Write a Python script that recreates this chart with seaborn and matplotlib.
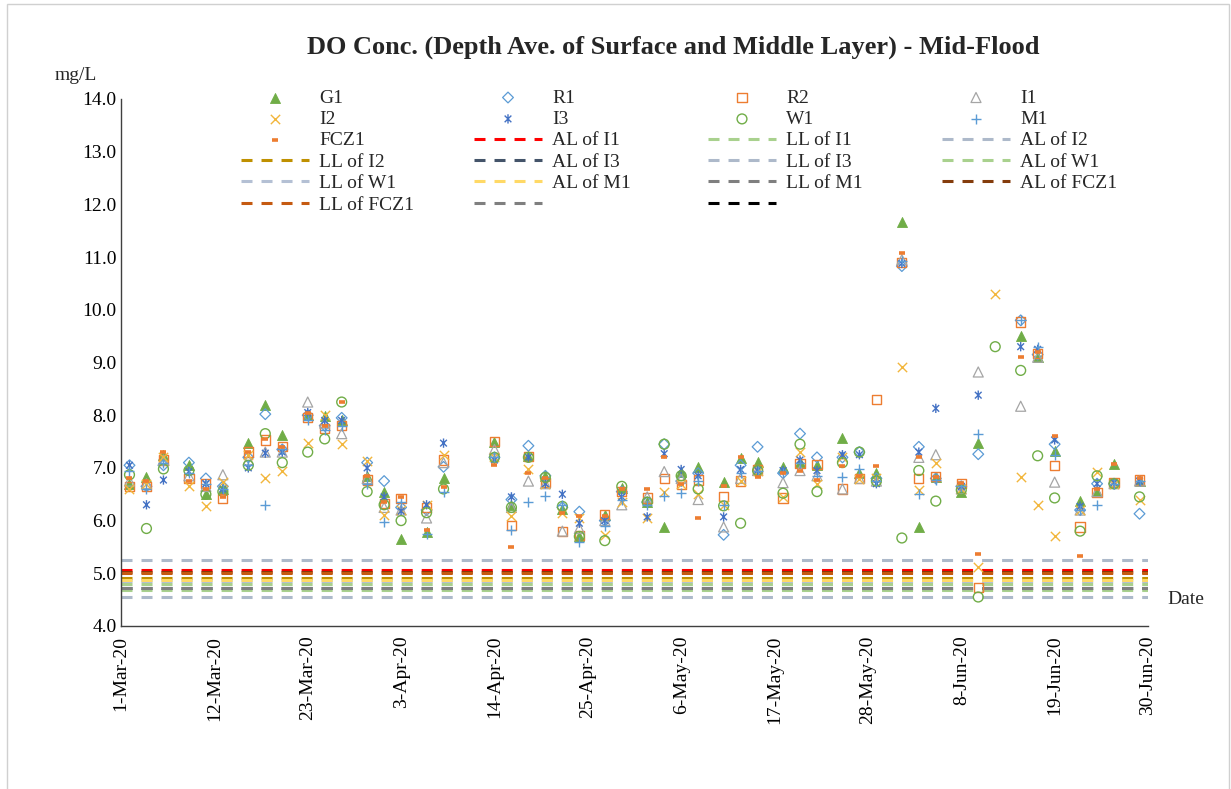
import numpy as np
import pandas as pd
import matplotlib
matplotlib.use("Agg")
import matplotlib.pyplot as plt
import matplotlib.dates as mdates
from matplotlib.lines import Line2D
from matplotlib.path import Path
from matplotlib.patches import Rectangle
from matplotlib.ticker import FixedLocator, FormatStrFormatter
import seaborn as sns

# ---------------------------------------------------------------- data
dates = pd.to_datetime([
    "2020-03-02", "2020-03-04", "2020-03-06", "2020-03-09", "2020-03-11", "2020-03-13",
    "2020-03-16", "2020-03-18", "2020-03-20", "2020-03-23", "2020-03-25", "2020-03-27",
    "2020-03-30", "2020-04-01", "2020-04-03", "2020-04-06", "2020-04-08", "2020-04-14",
    "2020-04-16", "2020-04-18", "2020-04-20", "2020-04-22", "2020-04-24", "2020-04-27",
    "2020-04-29", "2020-05-02", "2020-05-04", "2020-05-06", "2020-05-08", "2020-05-11",
    "2020-05-13", "2020-05-15", "2020-05-18", "2020-05-20", "2020-05-22", "2020-05-25",
    "2020-05-27", "2020-05-29", "2020-06-01", "2020-06-03", "2020-06-05", "2020-06-08",
    "2020-06-10", "2020-06-12", "2020-06-15", "2020-06-17", "2020-06-19", "2020-06-22",
    "2020-06-24", "2020-06-26", "2020-06-29",
])
nan = np.nan

G1 = [6.70, 6.83, 7.25, 7.05, 6.50, 6.60, 7.47, 8.20, 7.62, 8.00, 7.98, 7.90, 6.85,
      6.55, 5.65, 5.78, 6.80, 7.50, 6.30, 7.22, 6.85, 6.22, 5.70, 6.10, 6.62, 6.35,
      5.88, 6.92, 7.02, 6.73, 7.18, 7.12, 7.02, 7.12, 7.05, 7.57, 6.90, 6.90, 11.66,
      5.87, 6.83, 6.55, 7.47, nan, 9.50, 9.10, 7.32, 6.38, 6.55, 7.07, 6.75]
R1 = [7.05, 6.65, 7.05, 7.10, 6.80, 6.65, 7.20, 8.02, 7.35, 8.00, 7.80, 7.95, 7.10,
      6.75, 6.25, 6.20, 7.02, 7.20, 6.40, 7.42, 6.85, 6.25, 6.17, 6.00, 6.55, 6.35,
      7.45, 6.75, 6.90, 5.73, 7.05, 7.40, 6.90, 7.65, 7.20, 7.20, 7.30, 6.80, 10.83,
      7.40, 6.80, 6.65, 7.26, nan, 9.80, 9.15, 7.45, 6.20, 6.70, 6.70, 6.13]
R2 = [6.65, 6.65, 7.15, 6.80, 6.70, 6.42, 7.30, 7.53, 7.40, 7.95, 7.75, 7.80, 6.77,
      6.33, 6.42, 6.25, 7.15, 7.50, 5.90, 7.22, 6.72, 5.80, 5.72, 6.12, 6.55, 6.43,
      6.80, 6.68, 6.77, 6.45, 6.75, 6.97, 6.43, 7.08, 7.07, 6.60, 6.80, 8.30, 10.90,
      6.80, 6.83, 6.70, 4.73, nan, 9.77, 9.17, 7.04, 5.88, 6.53, 6.72, 6.77]
I1 = [6.75, 6.70, 7.15, 6.85, 6.65, 6.87, 7.15, 7.30, 7.30, 8.25, 7.85, 7.65, 6.80,
      6.25, 6.20, 6.05, 7.10, 7.35, 6.25, 6.75, 6.70, 5.80, 5.85, 6.00, 6.30, 6.45,
      6.93, 6.80, 6.40, 5.88, 6.80, 6.95, 6.72, 6.95, 6.85, 6.60, 6.80, 6.75, 10.95,
      7.20, 7.25, 6.60, 8.82, nan, 8.17, 9.10, 6.73, 6.20, 6.55, 6.70, 6.75]
I2 = [6.60, 6.70, 7.20, 6.65, 6.27, 6.73, 7.25, 6.80, 6.95, 7.47, 8.00, 7.45, 7.13,
      6.10, 6.20, 6.30, 7.25, 7.20, 6.08, 6.97, 6.70, 6.15, 6.05, 5.72, 6.35, 6.05,
      6.55, 6.70, 6.50, 6.30, 6.75, 6.95, 6.45, 7.30, 6.70, 7.20, 6.78, 6.80, 8.92,
      6.58, 7.10, 6.60, 5.12, 10.30, 6.82, 6.30, 5.70, 6.20, 6.93, 6.70, 6.40]
I3 = [7.05, 6.30, 6.77, 6.93, 6.70, 6.60, 7.00, 7.28, 7.30, 8.05, 7.90, 7.90, 7.00,
      6.45, 6.18, 6.30, 7.47, 7.15, 6.45, 7.20, 6.70, 6.50, 5.95, 6.00, 6.45, 6.07,
      7.27, 6.97, 6.85, 6.07, 6.97, 6.95, 6.95, 7.15, 6.95, 7.25, 7.25, 6.70, 10.88,
      7.30, 8.13, 6.65, 8.38, nan, 9.30, 9.25, 7.53, 6.27, 6.70, 6.72, 6.75]
W1 = [6.87, 5.85, 6.98, 6.95, 6.50, 6.55, 7.05, 7.65, 7.10, 7.30, 7.55, 8.25, 6.55,
      6.30, 6.00, 6.15, 6.60, 7.20, 6.25, 7.20, 6.82, 6.27, 5.70, 5.62, 6.65, 6.35,
      7.45, 6.85, 6.60, 6.28, 5.95, 6.95, 6.52, 7.45, 6.55, 7.10, 7.30, 6.75, 5.67,
      6.95, 6.37, 6.58, 4.55, 9.30, 8.85, 7.23, 6.43, 5.80, 6.85, 6.70, 6.45]
M1 = [6.95, 6.60, 7.10, 6.90, 6.70, 6.60, 7.05, 6.30, 7.35, 7.90, 7.72, 7.80, 6.70,
      5.97, 6.35, 5.75, 6.55, 7.20, 5.82, 6.35, 6.47, 6.30, 5.60, 5.90, 6.40, 6.30,
      6.47, 6.53, 6.75, 6.30, 6.90, 6.95, 6.90, 7.10, 6.85, 6.82, 6.97, 6.75, 10.92,
      6.50, 6.77, 6.65, 7.64, nan, 9.80, 9.30, 7.25, 6.20, 6.30, 6.70, 6.75]
FCZ1 = [6.80, 6.75, 7.30, 6.75, 6.60, 6.45, 7.30, 7.55, 7.40, 8.05, 7.80, 8.25, 6.85,
        6.35, 6.45, 5.82, 6.63, 7.05, 5.50, 6.90, 6.80, 6.15, 6.08, 6.08, 6.60, 6.60,
        7.20, 6.70, 6.05, 6.65, 7.20, 6.82, 6.90, 6.95, 6.77, 7.03, 6.85, 7.03, 11.08,
        7.20, 6.83, 6.72, 5.36, nan, 9.10, 9.20, 7.60, 5.33, 6.60, 7.07, 6.80]

# action / limit levels (mg/L)
limit_names = ["AL of I1", "LL of I1", "AL of I2", "LL of I2", "AL of I3", "LL of I3",
               "AL of W1", "LL of W1", "AL of M1", "LL of M1", "AL of FCZ1", "LL of FCZ1"]
limit_levels = [5.07, 4.68, 5.25, 4.92, 4.73, 4.55, 4.80, 4.85, 4.88, 4.72, 5.03, 5.01]
limit_colors = ["#FF0000", "#A9D18E", "#ADB9CA", "#BF9000", "#44546A", "#ADB9CA",
                "#A9D18E", "#B4C0D4", "#FFD966", "#7F7F7F", "#843C0C", "#C55A11"]

x_ticks = pd.date_range("2020-03-01", "2020-06-30", freq="11D")

# ---------------------------------------------------------------- style
sns.set_style("white")
plt.rcParams["font.family"] = ["Liberation Serif", "DejaVu Serif"]
plt.rcParams["lines.scale_dashes"] = True

W, H = 1231, 789
fig = plt.figure(figsize=(W / 100, H / 100), dpi=100)
ax = fig.add_axes([121 / W, 1 - 626 / H, (1148 - 121) / W, (626 - 99) / H])

DASH = (3.6, 2.95)
LW = 2.2

# horizontal limit lines spanning the whole period
span = [pd.Timestamp("2020-03-01"), pd.Timestamp("2020-06-30")]
limit_handles = {}
for name, lvl, col in zip(limit_names, limit_levels, limit_colors):
    sns.lineplot(x=span, y=[lvl, lvl], ax=ax, color=col, lw=LW, legend=False, zorder=1)
    ln = ax.lines[-1]
    ln.set_dashes(DASH)
    ln.set_dash_capstyle("butt")
    limit_handles[name] = ln

# asterisk marker: an X with a vertical bar
star = Path([(0, -1), (0, 1), (-0.72, -0.72), (0.72, 0.72), (-0.72, 0.72), (0.72, -0.72)],
            [Path.MOVETO, Path.LINETO, Path.MOVETO, Path.LINETO, Path.MOVETO, Path.LINETO])

series = [
    ("G1", G1, dict(marker="^", s=52, color="#70AD47", edgecolor="#70AD47", linewidth=0.6)),
    ("R1", R1, dict(marker="D", s=30, color="#5B9BD5", facecolor="none", edgecolor="#5B9BD5", linewidth=0.9)),
    ("R2", R2, dict(marker="s", s=44, color="#ED7D31", facecolor="none", edgecolor="#ED7D31", linewidth=1.0)),
    ("I1", I1, dict(marker="^", s=52, color="#A5A5A5", facecolor="none", edgecolor="#A5A5A5", linewidth=0.9)),
    ("I2", I2, dict(marker="x", s=45, color="#F2B63C", linewidth=1.0)),
    ("I3", I3, dict(marker=star, s=45, color="#4472C4", facecolor="none", edgecolor="#4472C4", linewidth=1.0)),
    ("W1", W1, dict(marker="o", s=50, color="#70AD47", facecolor="none", edgecolor="#70AD47", linewidth=1.0)),
    ("M1", M1, dict(marker="+", s=60, color="#5B9BD5", linewidth=1.0)),
    ("FCZ1", FCZ1, dict(marker="_", s=22, color="#ED7D31", linewidth=2.6)),
]

marker_handles = {}
for name, vals, kw in series:
    n_before = len(ax.collections)
    sns.scatterplot(x=dates, y=vals, ax=ax, legend=False, zorder=3, **kw)
    coll = ax.collections[n_before]
    coll.set_label(name)
    marker_handles[name] = coll

# ---------------------------------------------------------------- axes
ax.set_xlim(span[0], span[1])
ax.set_ylim(4.0, 14.0)
ax.xaxis.set_major_locator(FixedLocator(mdates.date2num(x_ticks)))
ax.xaxis.set_major_formatter(mdates.DateFormatter("%-d-%b-%y"))
ax.yaxis.set_major_locator(FixedLocator(np.arange(4, 14.01, 1.0)))
ax.yaxis.set_major_formatter(FormatStrFormatter("%.1f"))
ax.set_xlabel("")
ax.set_ylabel("")

for side in ("top", "right"):
    ax.spines[side].set_visible(False)
for side in ("left", "bottom"):
    ax.spines[side].set_color("#404040")
    ax.spines[side].set_linewidth(1.0)

ax.tick_params(axis="both", direction="in", length=6, width=1, color="#404040",
               labelsize=14, labelcolor="black")
ax.tick_params(axis="x", pad=7)
ax.tick_params(axis="y", pad=3)
plt.setp(ax.get_xticklabels(), rotation=90, ha="center", va="top")

# ---------------------------------------------------------------- legend (4 columns)
blank_gray = Line2D([], [], color="#7F7F7F", lw=LW, dashes=DASH)
blank_black = Line2D([], [], color="#000000", lw=LW, dashes=DASH)

columns = [
    [("G1", marker_handles["G1"]), ("I2", marker_handles["I2"]), ("FCZ1", marker_handles["FCZ1"]),
     ("LL of I2", limit_handles["LL of I2"]), ("LL of W1", limit_handles["LL of W1"]),
     ("LL of FCZ1", limit_handles["LL of FCZ1"])],
    [("R1", marker_handles["R1"]), ("I3", marker_handles["I3"]), ("AL of I1", limit_handles["AL of I1"]),
     ("AL of I3", limit_handles["AL of I3"]), ("AL of M1", limit_handles["AL of M1"]),
     ("", blank_gray)],
    [("R2", marker_handles["R2"]), ("W1", marker_handles["W1"]), ("LL of I1", limit_handles["LL of I1"]),
     ("LL of I3", limit_handles["LL of I3"]), ("LL of M1", limit_handles["LL of M1"]),
     ("", blank_black)],
    [("I1", marker_handles["I1"]), ("M1", marker_handles["M1"]), ("AL of I2", limit_handles["AL of I2"]),
     ("AL of W1", limit_handles["AL of W1"]), ("AL of FCZ1", limit_handles["AL of FCZ1"])],
]
col_x = [241, 474, 708, 942]
legend_fs = 14
fs_px = legend_fs * 100 / 72
for cx, entries in zip(col_x, columns):
    fig.legend([h for _, h in entries], [l for l, _ in entries],
               loc="upper left", bbox_to_anchor=(cx / W, 1 - 89 / H),
               bbox_transform=fig.transFigure, frameon=False,
               fontsize=legend_fs, handlelength=68 / fs_px, handletextpad=10 / fs_px,
               labelspacing=0.195, borderpad=0.0, borderaxespad=0.0,
               scatterpoints=1, numpoints=1)

# ---------------------------------------------------------------- text
fig.text(673 / W, 1 - 47 / H, "DO Conc. (Depth Ave. of Surface and Middle Layer) - Mid-Flood",
         ha="center", va="center", fontsize=19, fontweight="bold")
fig.text(76 / W, 1 - 75 / H, "mg/L", ha="center", va="center", fontsize=14)
fig.text(1186 / W, 1 - 600 / H, "Date", ha="center", va="center", fontsize=14)

# chart frame
fig.patches.append(Rectangle((7 / W, -0.01), (1229 - 7) / W, 1.01 - 4 / H,
                             transform=fig.transFigure, fill=False,
                             edgecolor="#D0D0D0", linewidth=1.0))

fig.savefig("out.png", dpi=100)
